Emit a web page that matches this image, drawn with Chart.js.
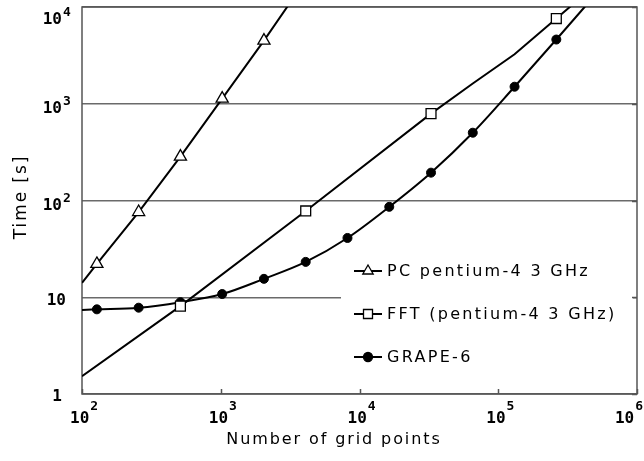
<!DOCTYPE html>
<html>
<head>
<meta charset="utf-8">
<script src="https://cdn.jsdelivr.net/npm/chart.js@4.4.1/dist/chart.umd.min.js"></script>
<style>
  html, body { margin: 0; padding: 0; background: #fff; }
  #wrap { width: 644px; height: 461px; }
</style>
</head>
<body>
<div id="wrap"><canvas id="chart" width="644" height="461"></canvas></div>
<script>
// values
const xTicks = [100, 1000, 10000, 100000, 1000000];
const yTicks = [1, 10, 100, 1000, 10000];

const pcN = [100, 128, 256, 512, 1024, 2048, 4096];
const pcTime = [14.1, 22.1, 76, 284, 1130, 4500, 19000];
const pcMarked = [false, true, true, true, true, true, false];

const fftN = [100, 512, 4096, 32768, 65536, 131072, 262144, 524288];
const fftTime = [1.53, 8.1, 78, 790, 1620, 3250, 7600, 17800];
const fftMarked = [false, true, true, true, false, false, true, false];

const grapeN = [100, 128, 256, 512, 1024, 2048, 4096, 8192, 16384, 32768, 65536, 131072, 262144, 524288];
const grapeTime = [7.4, 7.5, 7.8, 8.9, 10.8, 15.5, 23.2, 41, 86, 194, 502, 1500, 4610, 14500];
const grapeMarked = [false, true, true, true, true, true, true, true, true, true, true, true, true, false];

const legendLabels = ['PC pentium-4 3 GHz', 'FFT (pentium-4 3 GHz)', 'GRAPE-6'];

function pts(xs, ys) {
    return xs.map((x, i) => ({ x: x, y: ys[i] }));
}

const MONO = '"DejaVu Sans Mono", monospace';
const SANS = '"DejaVu Sans", sans-serif';

// axis labels with superscripts, ticks, frame and legend
const decor = {
    id: 'decor',
    beforeDatasetsDraw(chart) {
        const ctx = chart.ctx;
        const a = chart.chartArea;
        const xs = chart.scales.x, ys = chart.scales.y;
        ctx.save();
        // legend background hides part of the grid
        ctx.fillStyle = '#fff';
        ctx.fillRect(341, 250, 292, 136);
        // inward ticks on bottom and right
        ctx.strokeStyle = '#555';
        ctx.lineWidth = 1.5;
        ctx.beginPath();
        xTicks.forEach(v => {
            const px = Math.round(xs.getPixelForValue(v)) + 0.5;
            ctx.moveTo(px, a.bottom);
            ctx.lineTo(px, a.bottom - 5);
        });
        yTicks.forEach(v => {
            const py = Math.round(ys.getPixelForValue(v)) + 0.5;
            ctx.moveTo(a.right, py);
            ctx.lineTo(a.right - 5, py);
        });
        ctx.stroke();
        // frame
        ctx.strokeRect(a.left, a.top, a.right - a.left, a.bottom - a.top);
        ctx.restore();
    },
    afterDraw(chart) {
        const ctx = chart.ctx;
        const xs = chart.scales.x, ys = chart.scales.y;
        ctx.save();
        ctx.fillStyle = '#000';
        ctx.textBaseline = 'middle';

        // y tick labels
        yTicks.forEach(v => {
            const py = ys.getPixelForValue(v);
            const e = Math.round(Math.log10(v));
            ctx.font = 'bold 16px ' + MONO;
            if (e === 0) {
                ctx.textAlign = 'right';
                ctx.fillText('1', 62, py + 3);
            } else if (e === 1) {
                ctx.textAlign = 'right';
                ctx.fillText('10', 66, py + 4);
            } else {
                const base = Math.max(py + 5, 20);
                ctx.textAlign = 'right';
                ctx.fillText('10', 62, base);
                ctx.font = 'bold 13px ' + MONO;
                ctx.textAlign = 'left';
                ctx.fillText(String(e), 63, base - 7);
            }
        });

        // x tick labels
        xTicks.forEach(v => {
            const px = xs.getPixelForValue(v);
            const e = Math.round(Math.log10(v));
            ctx.font = 'bold 16px ' + MONO;
            const w1 = ctx.measureText('10').width;
            ctx.font = 'bold 13px ' + MONO;
            const w2 = ctx.measureText(String(e)).width;
            let left = px - 12;
            if (left + w1 + 1 + w2 > 643) left = 643 - w1 - 1 - w2;
            ctx.textAlign = 'left';
            ctx.font = 'bold 16px ' + MONO;
            ctx.fillText('10', left, 419);
            ctx.font = 'bold 13px ' + MONO;
            ctx.fillText(String(e), left + w1 + 1, 407);
        });

        // axis titles
        ctx.font = '16px ' + SANS;
        ctx.letterSpacing = '1.9px';
        ctx.textAlign = 'left';
        const tw = ctx.measureText('Number of grid points').width;
        ctx.fillText('Number of grid points', 333 - tw / 2 + 1, 440);
        ctx.save();
        ctx.translate(22, 198);
        ctx.rotate(-Math.PI / 2);
        ctx.font = '17px ' + SANS;
        const tw2 = ctx.measureText('Time [s]').width;
        ctx.fillText('Time [s]', -tw2 / 2 + 1, 0);
        ctx.restore();
        ctx.letterSpacing = '0px';

        // legend
        const rows = [271, 314, 357];
        chart.data.datasets.forEach((ds, i) => {
            const y = rows[i];
            ctx.strokeStyle = '#000';
            ctx.lineWidth = 2;
            ctx.beginPath();
            ctx.moveTo(354, y);
            ctx.lineTo(382, y);
            ctx.stroke();
            ctx.lineWidth = 1.3;
            ctx.fillStyle = ds.pointBackgroundColor;
            ctx.strokeStyle = '#000';
            ctx.beginPath();
            if (ds.pointStyle === 'triangle') {
                const r = 6;
                ctx.moveTo(368, y - r);
                ctx.lineTo(368 + r * 0.866, y + r * 0.5);
                ctx.lineTo(368 - r * 0.866, y + r * 0.5);
                ctx.closePath();
            } else if (ds.pointStyle === 'rect') {
                ctx.rect(363.5, y - 4.5, 9, 9);
            } else {
                ctx.arc(368, y, 4.5, 0, Math.PI * 2);
            }
            ctx.fill();
            ctx.stroke();
            ctx.fillStyle = '#000';
            ctx.font = '16px ' + SANS;
            ctx.textAlign = 'left';
            ctx.letterSpacing = '2.3px';
            ctx.fillText(legendLabels[i], 387, y + 1);
            ctx.letterSpacing = '0px';
        });
        ctx.restore();
    }
};

function markerRadius(marked, r) {
    return c => (marked[c.dataIndex] ? r : 0);
}

const ctx = document.getElementById('chart').getContext('2d');
const chart = new Chart(ctx, {
    type: 'line',
    data: {
        datasets: [{
            label: legendLabels[0],
            data: pts(pcN, pcTime),
            borderColor: '#000',
            borderWidth: 2,
            pointStyle: 'triangle',
            pointRadius: markerRadius(pcMarked, 7),
            pointBackgroundColor: '#fff',
            pointBorderColor: '#000',
            pointBorderWidth: 1.3,
            tension: 0
        }, {
            label: legendLabels[1],
            data: pts(fftN, fftTime),
            borderColor: '#000',
            borderWidth: 2,
            pointStyle: 'rect',
            pointRadius: markerRadius(fftMarked, 7),
            pointBackgroundColor: '#fff',
            pointBorderColor: '#000',
            pointBorderWidth: 1.3,
            tension: 0
        }, {
            label: legendLabels[2],
            data: pts(grapeN, grapeTime),
            borderColor: '#000',
            borderWidth: 2,
            pointStyle: 'circle',
            pointRadius: markerRadius(grapeMarked, 4.5),
            pointBackgroundColor: '#000',
            pointBorderColor: '#000',
            pointBorderWidth: 1,
            cubicInterpolationMode: 'monotone'
        }]
    },
    options: {
        responsive: false,
        animation: false,
        devicePixelRatio: 1,
        layout: { padding: { left: 82, right: 7, top: 7, bottom: 67 } },
        plugins: {
            legend: { display: false },
            tooltip: { enabled: false }
        },
        scales: {
            x: {
                type: 'logarithmic',
                min: 100,
                max: 1000000,
                afterBuildTicks: axis => { axis.ticks = xTicks.map(v => ({ value: v })); },
                grid: { display: false, drawTicks: false },
                border: { display: false },
                ticks: { display: false }
            },
            y: {
                type: 'logarithmic',
                min: 1,
                max: 10000,
                afterBuildTicks: axis => { axis.ticks = yTicks.map(v => ({ value: v })); },
                grid: { color: '#6a6a6a', lineWidth: 1.5, drawTicks: false },
                border: { display: false },
                ticks: { display: false }
            }
        }
    },
    plugins: [decor]
});
</script>
</body>
</html>
